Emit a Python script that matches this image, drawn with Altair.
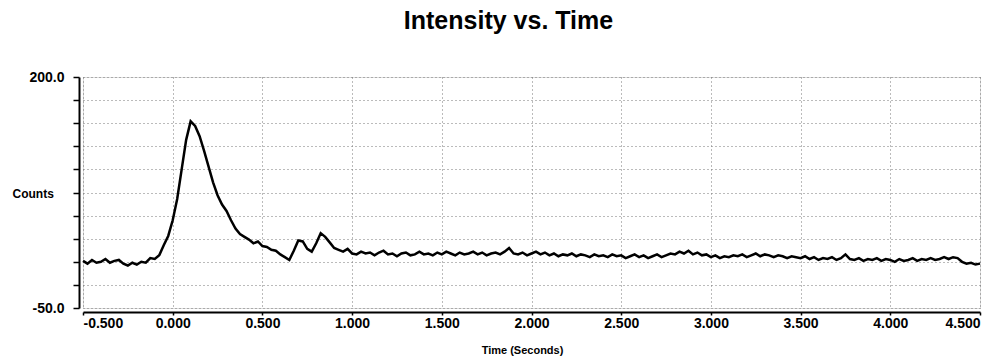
import altair as alt
import pandas as pd

time_s = [
    -0.5, -0.475, -0.45, -0.425, -0.4, -0.375, -0.35, -0.325,
    -0.3, -0.275, -0.25, -0.225, -0.2, -0.175, -0.15, -0.125,
    -0.1, -0.075, -0.05, -0.025, 0.0, 0.025, 0.05, 0.075,
    0.1, 0.125, 0.15, 0.175, 0.2, 0.225, 0.25, 0.275,
    0.3, 0.325, 0.35, 0.375, 0.4, 0.425, 0.45, 0.475,
    0.5, 0.525, 0.55, 0.575, 0.6, 0.625, 0.65, 0.675,
    0.7, 0.725, 0.75, 0.775, 0.8, 0.825, 0.85, 0.875,
    0.9, 0.925, 0.95, 0.975, 1.0, 1.025, 1.05, 1.075,
    1.1, 1.125, 1.15, 1.175, 1.2, 1.225, 1.25, 1.275,
    1.3, 1.325, 1.35, 1.375, 1.4, 1.425, 1.45, 1.475,
    1.5, 1.525, 1.55, 1.575, 1.6, 1.625, 1.65, 1.675,
    1.7, 1.725, 1.75, 1.775, 1.8, 1.825, 1.85, 1.875,
    1.9, 1.925, 1.95, 1.975, 2.0, 2.025, 2.05, 2.075,
    2.1, 2.125, 2.15, 2.175, 2.2, 2.225, 2.25, 2.275,
    2.3, 2.325, 2.35, 2.375, 2.4, 2.425, 2.45, 2.475,
    2.5, 2.525, 2.55, 2.575, 2.6, 2.625, 2.65, 2.675,
    2.7, 2.725, 2.75, 2.775, 2.8, 2.825, 2.85, 2.875,
    2.9, 2.925, 2.95, 2.975, 3.0, 3.025, 3.05, 3.075,
    3.1, 3.125, 3.15, 3.175, 3.2, 3.225, 3.25, 3.275,
    3.3, 3.325, 3.35, 3.375, 3.4, 3.425, 3.45, 3.475,
    3.5, 3.525, 3.55, 3.575, 3.6, 3.625, 3.65, 3.675,
    3.7, 3.725, 3.75, 3.775, 3.8, 3.825, 3.85, 3.875,
    3.9, 3.925, 3.95, 3.975, 4.0, 4.025, 4.05, 4.075,
    4.1, 4.125, 4.15, 4.175, 4.2, 4.225, 4.25, 4.275,
    4.3, 4.325, 4.35, 4.375, 4.4, 4.425, 4.45, 4.475,
    4.5,
]

counts = [
    1, -2, 2, -1, 0, 3, -1, 1,
    2, -2, -4, -1, -3, 0, -1, 4,
    3, 7, 18, 28, 45, 68, 100, 132,
    152, 147, 136, 120, 103, 86, 72, 62,
    55, 45, 36, 30, 27, 24, 20, 22,
    17, 16, 13, 12, 8, 5, 2, 12,
    23, 22, 14, 11, 20, 31, 27, 21,
    15, 13, 11, 14, 9, 8, 11, 9,
    10, 7, 10, 12, 8, 9, 6, 9,
    10, 7, 8, 11, 8, 9, 7, 10,
    8, 11, 9, 7, 10, 8, 9, 11,
    8, 10, 7, 9, 10, 8, 11, 15,
    9, 8, 10, 7, 9, 11, 8, 10,
    7, 9, 6, 8, 7, 9, 6, 8,
    7, 5, 8, 6, 7, 5, 8, 6,
    7, 4, 6, 8, 5, 7, 4, 6,
    8, 5, 7, 9, 8, 11, 9, 12,
    8, 10, 7, 8, 5, 7, 4, 6,
    5, 7, 6, 8, 5, 7, 9, 6,
    8, 7, 5, 7, 6, 4, 6, 5,
    4, 6, 3, 5, 2, 4, 3, 5,
    2, 4, 8, 3, 2, 4, 1, 3,
    2, 4, 1, 3, 2, 0, 3, 1,
    2, 4, 1, 3, 2, 4, 2, 3,
    5, 3, 5, 4, 0, -2, -1, -3,
    -2,
]

x_ticks = [-0.5, 0.0, 0.5, 1.0, 1.5, 2.0, 2.5, 3.0, 3.5, 4.0, 4.5]
y_ticks = [-50, -25, 0, 25, 50, 75, 100, 125, 150, 175, 200]

df = pd.DataFrame({"t": time_s, "c": counts})

FONT = "Liberation Sans"

chart = (
    alt.Chart(df)
    .mark_line(color="black", strokeWidth=2.5)
    .encode(
        x=alt.X(
            "t:Q",
            scale=alt.Scale(domain=[-0.5, 4.5], nice=False, zero=False),
            axis=alt.Axis(
                values=x_ticks,
                labelExpr="replace(format(datum.value, '.3f'), '\u2212', '-')",
                title="Time (Seconds)",
                offset=4,
                tickSize=3,
                labelPadding=1,
                titleX=439,
                titleY=38,
                titleBaseline="middle",
                titleFontSize=11,
            ),
        ),
        y=alt.Y(
            "c:Q",
            scale=alt.Scale(domain=[-50, 200], nice=False, zero=False),
            axis=alt.Axis(
                values=y_ticks,
                labelExpr="datum.value == 200 || datum.value == -50 ? replace(format(datum.value, '.1f'), '\u2212', '-') : ''",
                title="Counts",
                offset=4,
                tickSize=6,
                labelPadding=9,
                titleAngle=0,
                titleAlign="left",
                titleBaseline="middle",
                titleX=-67,
                titleY=116,
                titleFontSize=12,
            ),
        ),
    )
    .properties(
        width=897,
        height=231,
        padding={"left": 83, "top": 77, "right": 20, "bottom": 50},
        autosize=alt.AutoSizeParams(type="none"),
        title=alt.TitleParams(
            "Intensity vs. Time",
            font=FONT,
            fontSize=25,
            fontWeight="bold",
            color="black",
            anchor="middle",
            frame="group",
            offset=36,
            dx=-23,
        ),
    )
    .configure_view(stroke=None)
    .configure(background="white")
    .configure_axis(
        labelFont=FONT,
        labelFontSize=14,
        labelFontWeight="bold",
        labelColor="black",
        titleFont=FONT,
        titleFontWeight="bold",
        titleColor="black",
        domainColor="black",
        domainWidth=2,
        tickColor="black",
        tickWidth=1.5,
        grid=True,
        gridColor="#777777",
        gridDash=[1, 3],
        gridWidth=1,
        labelOverlap=False,
    )
)

chart.save("out.html", embed_options={"renderer": "svg", "actions": False})
